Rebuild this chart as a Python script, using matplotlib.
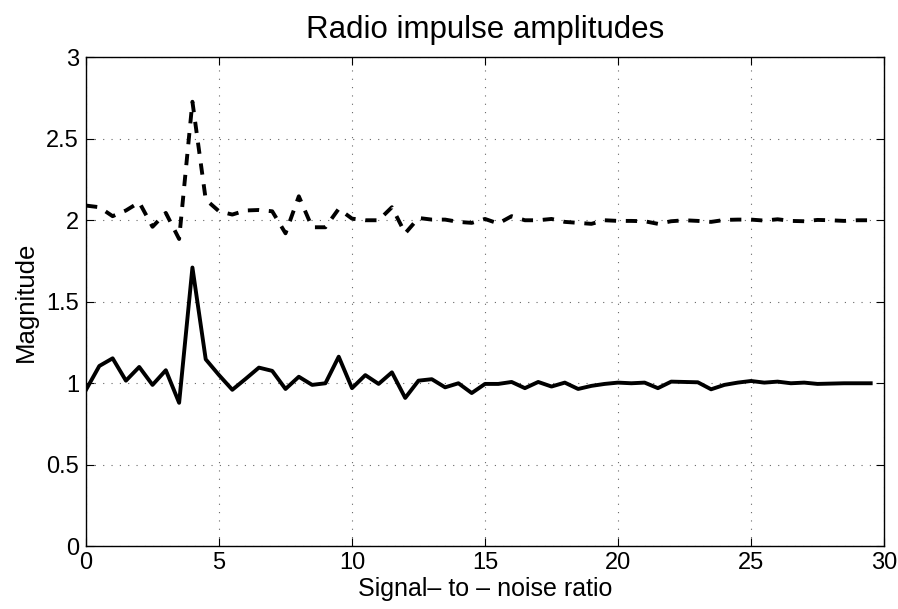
import numpy as np
import matplotlib
matplotlib.use("Agg")
import matplotlib.pyplot as plt

# Signal-to-noise ratio values (x)
snr = np.arange(0, 30, 0.5)

# Solid series (around 1)
amp_solid = [0.96, 1.106, 1.153, 1.016, 1.10, 0.99, 1.08, 0.88, 1.71, 1.147,
             1.05, 0.96, 1.027, 1.096, 1.076, 0.965, 1.04, 0.99, 1.0, 1.163,
             0.97, 1.05, 0.996, 1.067, 0.91, 1.016, 1.025, 0.975, 1.0, 0.94,
             0.996, 0.996, 1.008, 0.97, 1.008, 0.98, 1.004, 0.965, 0.984, 0.996,
             1.004, 1.0, 1.004, 0.97, 1.01, 1.008, 1.006, 0.963, 0.99, 1.004,
             1.014, 1.004, 1.01, 1.0, 1.004, 0.996, 0.998, 1.0, 1.0, 1.0]

# Dashed series (around 2)
amp_dashed = [2.09, 2.08, 2.025, 2.06, 2.11, 1.96, 2.045, 1.885, 2.727, 2.127,
              2.055, 2.035, 2.06, 2.063, 2.055, 1.92, 2.147, 1.957, 1.957, 2.07,
              2.01, 2.0, 2.0, 2.08, 1.92, 2.014, 2.004, 2.004, 1.99, 1.984,
              2.008, 1.98, 2.025, 2.0, 2.0, 2.008, 1.99, 1.984, 1.978, 2.0,
              1.996, 1.996, 1.994, 1.978, 1.994, 2.0, 1.996, 1.99, 2.002, 2.004,
              2.004, 1.998, 2.006, 1.996, 1.994, 2.002, 2.0, 1.996, 2.0, 2.0]

x_ticks = [0, 5, 10, 15, 20, 25, 30]
y_ticks = [0, 0.5, 1, 1.5, 2, 2.5, 3]
y_ticklabels = ["0", "0.5", "1", "1.5", "2", "2.5", "3"]

plt.rcParams['font.family'] = ['Liberation Sans', 'DejaVu Sans']

fig = plt.figure(figsize=(8.98, 6.09), dpi=100)
ax = fig.add_axes([0.0958, 0.103, 0.8886, 0.803])

ax.plot(snr, amp_solid, color='black', lw=2.8)
ax.plot(snr, amp_dashed, color='black', lw=2.8, dashes=(2.9, 2.5))

ax.set_xlim(0, 30)
ax.set_ylim(0, 3)
ax.set_xticks(x_ticks)
ax.set_yticks(y_ticks)
ax.set_yticklabels(y_ticklabels)
ax.grid(True, linestyle=(0, (1, 6.5)), color='black', linewidth=0.8, alpha=0.6)
ax.tick_params(direction='in', top=True, right=True, labelsize=17, length=6, width=0.8, pad=5)
ax.tick_params(axis='x', pad=4)
for sp in ax.spines.values():
    sp.set_linewidth(1.0)

ax.set_title("Radio impulse amplitudes", fontsize=22.5, pad=13.5)
ax.set_xlabel("Signal– to – noise ratio", fontsize=18, labelpad=2)
ax.set_ylabel("Magnitude", fontsize=18.5, labelpad=6)

fig.savefig("out.png", dpi=100)
